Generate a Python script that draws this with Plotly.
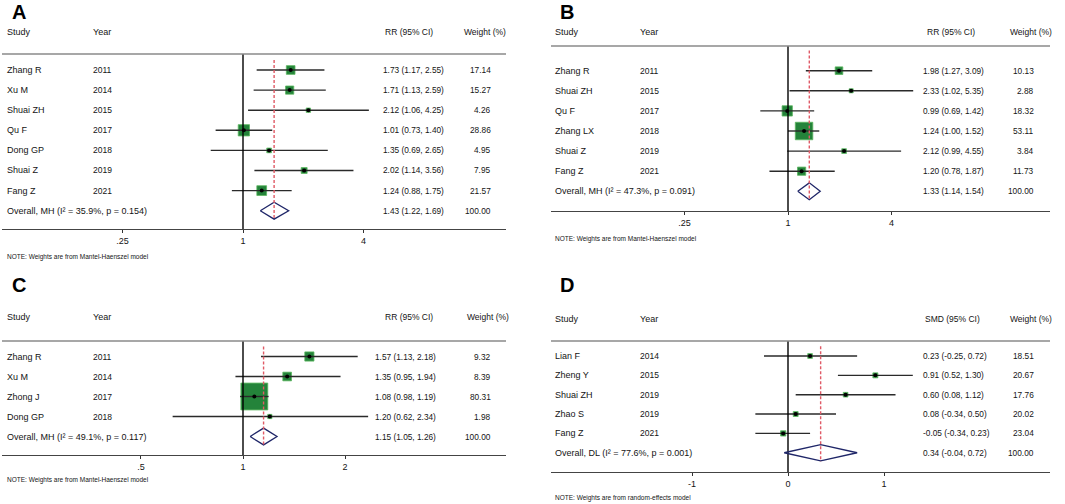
import math
import plotly.graph_objects as go

W, H = 1065, 504

# ---- data ----
# A
studies_a = ["Zhang R", "Xu M", "Shuai ZH", "Qu F", "Dong GP", "Shuai Z", "Fang Z"]
years_a = [2011, 2014, 2015, 2017, 2018, 2019, 2021]
est_a = [1.73, 1.71, 2.12, 1.01, 1.35, 2.02, 1.24]
lo_a = [1.17, 1.13, 1.06, 0.73, 0.69, 1.14, 0.88]
hi_a = [2.55, 2.59, 4.25, 1.40, 2.65, 3.56, 1.75]
wt_a = [17.14, 15.27, 4.26, 28.86, 4.95, 7.95, 21.57]
overall_a = [1.43, 1.22, 1.69]
overall_label_a = "Overall, MH (I² = 35.9%, p = 0.154)"
ticks_a = [0.25, 1, 4]
ticktext_a = [".25", "1", "4"]

# B
studies_b = ["Zhang R", "Shuai ZH", "Qu F", "Zhang LX", "Shuai Z", "Fang Z"]
years_b = [2011, 2015, 2017, 2018, 2019, 2021]
est_b = [1.98, 2.33, 0.99, 1.24, 2.12, 1.20]
lo_b = [1.27, 1.02, 0.69, 1.00, 0.99, 0.78]
hi_b = [3.09, 5.35, 1.42, 1.52, 4.55, 1.87]
wt_b = [10.13, 2.88, 18.32, 53.11, 3.84, 11.73]
overall_b = [1.33, 1.14, 1.54]
overall_label_b = "Overall, MH (I² = 47.3%, p = 0.091)"
ticks_b = [0.25, 1, 4]
ticktext_b = [".25", "1", "4"]

# C
studies_c = ["Zhang R", "Xu M", "Zhong J", "Dong GP"]
years_c = [2011, 2014, 2017, 2018]
est_c = [1.57, 1.35, 1.08, 1.20]
lo_c = [1.13, 0.95, 0.98, 0.62]
hi_c = [2.18, 1.94, 1.19, 2.34]
wt_c = [9.32, 8.39, 80.31, 1.98]
overall_c = [1.15, 1.05, 1.26]
overall_label_c = "Overall, MH (I² = 49.1%, p = 0.117)"
ticks_c = [0.5, 1, 2]
ticktext_c = [".5", "1", "2"]

# D
studies_d = ["Lian F", "Zheng Y", "Shuai ZH", "Zhao S", "Fang Z"]
years_d = [2014, 2015, 2019, 2019, 2021]
est_d = [0.23, 0.91, 0.60, 0.08, -0.05]
lo_d = [-0.25, 0.52, 0.08, -0.34, -0.34]
hi_d = [0.72, 1.30, 1.12, 0.50, 0.23]
wt_d = [18.51, 20.67, 17.76, 20.02, 23.04]
overall_d = [0.34, -0.04, 0.72]
overall_label_d = "Overall, DL (I² = 77.6%, p = 0.001)"
ticks_d = [-1, 0, 1]
ticktext_d = ["-1", "0", "1"]

note_mh = "NOTE: Weights are from Mantel-Haenszel model"
note_re = "NOTE: Weights are from random-effects model"

FONT = "Liberation Sans, Arial, sans-serif"
GREEN = "#24833a"
GREEN_EDGE = "#5cb860"
NAVY = "#1f2668"
RED = "#e05a66"
INK = "#141414"


def px(x):
    return x / W


def py(y):
    return 1 - y / H


# layout of each panel in pixels (positions only)
panels = [
    dict(letter="A", studies=studies_a, years=years_a, est=est_a, lo=lo_a, hi=hi_a, wt=wt_a,
         overall=overall_a, olabel=overall_label_a, ticks=ticks_a, ticktext=ticktext_a,
         note=note_mh, head="RR (95% CI)", log=True,
         left=2, right=506, top=54, bottom=229, row1=70, step=20.1,
         null_px=243, ppu=200.3, box=2.1, red_top=0.5,
         head_y=32, letter_y=12, note_y=257,
         c_study=5, c_year=91, c_est=381, c_head=383, c_wt=493, c_whead=462),
    dict(letter="B", studies=studies_b, years=years_b, est=est_b, lo=lo_b, hi=hi_b, wt=wt_b,
         overall=overall_b, olabel=overall_label_b, ticks=ticks_b, ticktext=ticktext_b,
         note=note_mh, head="RR (95% CI)", log=True,
         left=551, right=1050, top=46, bottom=211, row1=70.7, step=20.1,
         null_px=788, ppu=171.9, box=2.4, red_top=0.0,
         head_y=32, letter_y=12, note_y=239,
         c_study=553, c_year=638, c_est=921, c_head=925, c_wt=1036, c_whead=1008),
    dict(letter="C", studies=studies_c, years=years_c, est=est_c, lo=lo_c, hi=hi_c, wt=wt_c,
         overall=overall_c, olabel=overall_label_c, ticks=ticks_c, ticktext=ticktext_c,
         note=note_mh, head="RR (95% CI)", log=True,
         left=2, right=506, top=341, bottom=455, row1=356.5, step=20,
         null_px=243, ppu=338.9, box=3.0, red_top=0.5,
         head_y=317, letter_y=285, note_y=480,
         c_study=5, c_year=91, c_est=373, c_head=383, c_wt=493, c_whead=465),
    dict(letter="D", studies=studies_d, years=years_d, est=est_d, lo=lo_d, hi=hi_d, wt=wt_d,
         overall=overall_d, olabel=overall_label_d, ticks=ticks_d, ticktext=ticktext_d,
         note=note_re, head="SMD (95% CI)", log=False,
         left=551, right=1050, top=341, bottom=472, row1=356, step=19.35,
         null_px=788, ppu=96, box=1.1, red_top=0.5,
         head_y=319, letter_y=285, note_y=498,
         c_study=553, c_year=638, c_est=921, c_head=923, c_wt=1036, c_whead=1008),
]

fig = go.Figure()
annotations = []
shapes = []


def txt(x, y, text, yref="paper", anchor="left", size=9, bold=False, color=INK):
    annotations.append(dict(
        x=x, y=y, xref="paper", yref=yref, text=f"<b>{text}</b>" if bold else text,
        showarrow=False, xanchor=anchor, yanchor="middle",
        font=dict(family=FONT, size=size, color=color)))


for i, p in enumerate(panels, start=1):
    suf = "" if i == 1 else str(i)
    xa, ya = f"x{suf}", f"y{suf}"
    n = len(p["studies"])
    rows = list(range(1, n + 1))
    orow = n + 1
    y_top = (p["top"] - p["row1"]) / p["step"] + 1
    y_bot = (p["bottom"] - p["row1"]) / p["step"] + 1
    x_rng = [(p["left"] - p["null_px"]) / p["ppu"], (p["right"] - p["null_px"]) / p["ppu"]]
    null_val = 1 if p["log"] else 0

    # weight boxes (area ~ weight)
    fig.add_trace(go.Scatter(
        x=p["est"], y=rows, mode="markers", xaxis=xa, yaxis=ya, hoverinfo="skip",
        marker=dict(symbol="square", color=GREEN, opacity=1,
                    size=[p["box"] * math.sqrt(w) for w in p["wt"]],
                    line=dict(color=GREEN_EDGE, width=0.8))))
    # confidence intervals
    cx, cy = [], []
    for r, a, b in zip(rows, p["lo"], p["hi"]):
        cx += [a, b, None]
        cy += [r, r, None]
    fig.add_trace(go.Scatter(x=cx, y=cy, mode="lines", xaxis=xa, yaxis=ya, hoverinfo="skip",
                             line=dict(color="#2a2a2a", width=1.4)))
    # point estimates
    fig.add_trace(go.Scatter(x=p["est"], y=rows, mode="markers", xaxis=xa, yaxis=ya,
                             hoverinfo="skip",
                             marker=dict(symbol="circle", size=4, color="black")))
    # null line
    fig.add_trace(go.Scatter(x=[null_val, null_val], y=[y_top, y_bot], mode="lines",
                             xaxis=xa, yaxis=ya, hoverinfo="skip",
                             line=dict(color="black", width=1.4)))
    # pooled diamond
    e, a, b = p["overall"]
    fig.add_trace(go.Scatter(x=[a, e, b, e, a], y=[orow, orow - 0.42, orow, orow + 0.42, orow],
                             mode="lines", xaxis=xa, yaxis=ya, hoverinfo="skip",
                             line=dict(color=NAVY, width=1.3)))
    # pooled estimate line
    fig.add_trace(go.Scatter(x=[e, e], y=[p["red_top"], orow + 0.45], mode="lines",
                             xaxis=xa, yaxis=ya, hoverinfo="skip",
                             line=dict(color=RED, width=1.4, dash="3px,2px")))

    fig.update_layout({
        f"xaxis{suf}": dict(domain=[px(p["left"]), px(p["right"])], anchor=ya,
                            type="log" if p["log"] else "linear", range=x_rng,
                            tickmode="array", tickvals=p["ticks"], ticktext=p["ticktext"],
                            showline=True, linecolor="#444444", linewidth=1.4,
                            ticks="outside", ticklen=3, tickcolor="#333333", tickwidth=1,
                            showgrid=False, zeroline=False, fixedrange=True,
                            tickfont=dict(family=FONT, size=9, color=INK)),
        f"yaxis{suf}": dict(domain=[py(p["bottom"]), py(p["top"])], anchor=xa,
                            range=[y_bot, y_top], visible=False, showgrid=False,
                            fixedrange=True),
    })

    shapes.append(dict(type="line", xref=f"{xa} domain", yref=f"{ya} domain",
                       x0=0, x1=1, y0=1, y1=1, line=dict(color="#8a8a8a", width=1.4)))

    # panel letter, headers, note
    txt(px(p["c_study"] + 5), py(p["letter_y"]), p["letter"], size=20, bold=True, color="black")
    txt(px(p["c_study"]), py(p["head_y"]), "Study")
    txt(px(p["c_year"]), py(p["head_y"]), "Year")
    txt(px(p["c_head"]), py(p["head_y"]), p["head"], size=8.5)
    txt(px(p["c_whead"]), py(p["head_y"]), "Weight (%)", size=8.5)
    txt(px(p["c_study"]), py(p["note_y"]), p["note"], size=6.5)

    # table rows
    for r, s, yr, es, a, b, w in zip(rows, p["studies"], p["years"], p["est"],
                                     p["lo"], p["hi"], p["wt"]):
        txt(px(p["c_study"]), r, s, yref=ya)
        txt(px(p["c_year"]), r, str(yr), yref=ya, size=8.5)
        txt(px(p["c_est"]), r, f"{es:.2f} ({a:.2f}, {b:.2f})", yref=ya, size=8.3)
        txt(px(p["c_wt"]), r, f"{w:.2f}", yref=ya, anchor="right", size=8.3)
    e, a, b = p["overall"]
    txt(px(p["c_study"]), orow, p["olabel"], yref=ya)
    txt(px(p["c_est"]), orow, f"{e:.2f} ({a:.2f}, {b:.2f})", yref=ya, size=8.3)
    txt(px(p["c_wt"]), orow, "100.00", yref=ya, anchor="right", size=8.3)

fig.update_layout(
    width=W, height=H,
    margin=dict(l=0, r=0, t=0, b=0),
    paper_bgcolor="white", plot_bgcolor="white",
    showlegend=False,
    annotations=annotations,
    shapes=shapes,
    font=dict(family=FONT, color=INK),
)

# the page body has a default 8px margin; drop it so the figure fills the window
fig.write_html("out.html", config={"displayModeBar": False},
               post_script="document.body.style.margin='0';")
